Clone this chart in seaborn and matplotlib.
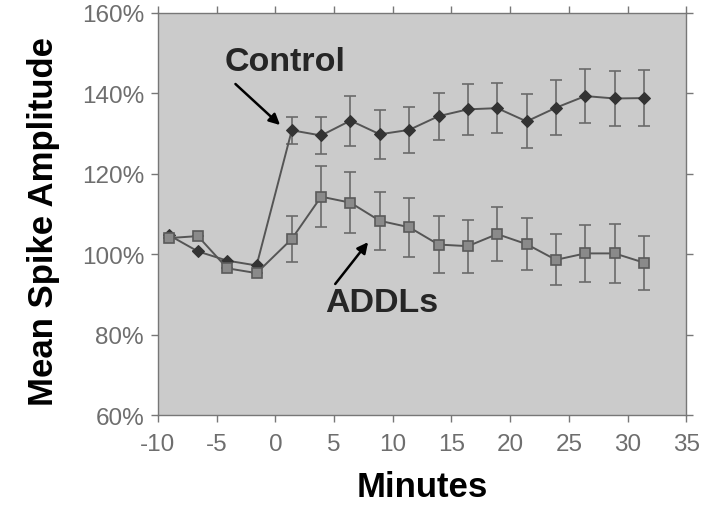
import numpy as np
import pandas as pd
import matplotlib
matplotlib.use("Agg")
import matplotlib.pyplot as plt
import seaborn as sns

# dados
minutos = [-9.1, -6.6, -4.1, -1.6, 1.4, 3.9, 6.4, 8.9, 11.4, 13.9, 16.4,
           18.9, 21.4, 23.9, 26.4, 28.9, 31.4]
controle = [104.8, 100.7, 98.4, 97.2, 130.8, 129.5, 133.2, 129.8, 130.9, 134.3,
            136.0, 136.3, 133.0, 136.4, 139.3, 138.7, 138.8]
controle_err = [0, 0, 0, 0, 3.4, 4.5, 6.2, 6.1, 5.8, 5.8, 6.4, 6.3, 6.7, 6.9,
                6.7, 6.9, 7.0]
addls = [104.0, 104.5, 96.5, 95.3, 103.8, 114.3, 112.8, 108.3, 106.7, 102.4,
         102.0, 105.0, 102.5, 98.6, 100.2, 100.2, 97.9]
addls_err = [0, 0, 0, 0, 5.7, 7.6, 7.6, 7.2, 7.3, 7.0, 6.6, 6.8, 6.4, 6.3,
             7.1, 7.4, 6.7]
yticks = [60, 80, 100, 120, 140, 160]
xticks = [-10, -5, 0, 5, 10, 15, 20, 25, 30, 35]

df = pd.DataFrame({'Minutos': minutos, 'Control': controle, 'ADDLs': addls})

sns.set_style("ticks")
plt.rcParams['font.family'] = ['Liberation Sans', 'DejaVu Sans']
plt.rcParams['axes.unicode_minus'] = False

fig = plt.figure(figsize=(7.1, 5.1), dpi=100)
ax = fig.add_axes([0.2225, 0.184, 0.744, 0.789])
ax.set_facecolor('#cbcbcb')

cinza_linha = '#555555'
cinza_err = '#6a6a6a'

# Control (diamantes escuros)
ax.errorbar(df['Minutos'], df['Control'], yerr=controle_err, fmt='none',
            ecolor=cinza_err, elinewidth=1.2, capsize=4, capthick=1.2, zorder=2)
sns.lineplot(data=df, x='Minutos', y='Control', ax=ax, color=cinza_linha,
             linewidth=1.4, marker='D', markersize=6.5, markerfacecolor='#333333',
             markeredgecolor='#333333', zorder=3)

# ADDLs (quadrados cinza)
ax.errorbar(df['Minutos'], df['ADDLs'], yerr=addls_err, fmt='none',
            ecolor=cinza_err, elinewidth=1.2, capsize=4, capthick=1.2, zorder=2)
sns.lineplot(data=df, x='Minutos', y='ADDLs', ax=ax, color=cinza_linha,
             linewidth=1.4, marker='s', markersize=7.5, markerfacecolor='#8a8a8a',
             markeredgecolor='#5a5a5a', markeredgewidth=1.2, zorder=4)

ax.set_xlim(-10, 35)
ax.set_ylim(60, 160)
ax.set_xticks(xticks)
ax.set_yticks(yticks)
ax.set_yticklabels([f'{v}%' for v in yticks])
ax.tick_params(axis='both', which='both', direction='out', length=5, width=1,
               color='#777777', labelcolor='#6e6e6e', labelsize=17.5,
               top=True, right=True, labeltop=False, labelright=False)
ax.tick_params(axis='x', pad=8)
ax.tick_params(axis='y', pad=5)
for s in ax.spines.values():
    s.set_visible(True)
    s.set_color('#777777')
    s.set_linewidth(1.0)

ax.set_xlabel('Minutes', fontsize=25, fontweight='bold', color='black', labelpad=11)
ax.set_ylabel('Mean Spike Amplitude', fontsize=25, fontweight='bold', color='black')
ax.yaxis.set_label_coords(-0.185, 0.483)

# rótulos e setas
ax.text(0.8, 147.8, 'Control', fontsize=24.5, fontweight='bold',
        ha='center', va='center')
ax.annotate('', xy=(0.4, 132.1), xytext=(-3.4, 142.3),
            arrowprops=dict(arrowstyle='-|>', color='black', lw=1.8,
                            mutation_scale=16, shrinkA=0, shrinkB=0))
ax.text(9.1, 88.1, 'ADDLs', fontsize=24.5, fontweight='bold',
        ha='center', va='center')
ax.annotate('', xy=(7.9, 103.0), xytext=(5.1, 92.6),
            arrowprops=dict(arrowstyle='-|>', color='black', lw=1.8,
                            mutation_scale=16, shrinkA=0, shrinkB=0))

fig.savefig('out.png', dpi=100)
